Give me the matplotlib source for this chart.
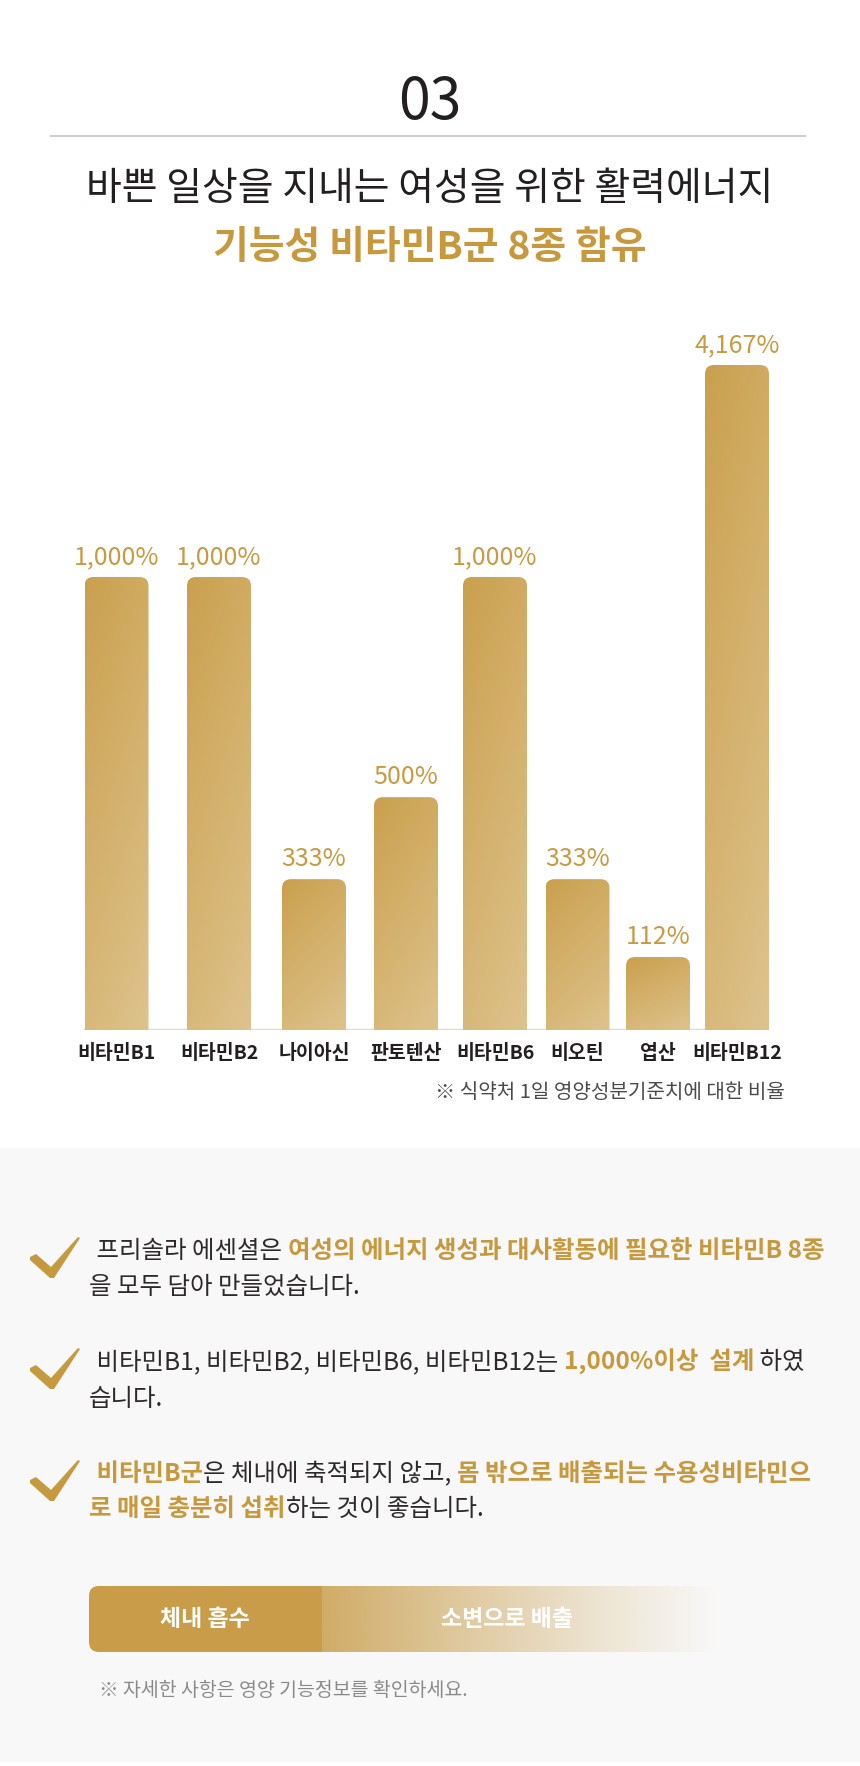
import numpy as np
import matplotlib
matplotlib.use("Agg")
import matplotlib.pyplot as plt
from matplotlib.path import Path
from matplotlib.patches import PathPatch, Rectangle, FancyBboxPatch, Polygon

plt.rcParams['font.family'] = ['Noto Sans CJK KR', 'DejaVu Sans']

# data
categories = ["비타민B1", "비타민B2", "나이아신", "판토텐산", "비타민B6", "비오틴", "엽산", "비타민B12"]
values = [1000, 1000, 333, 500, 1000, 333, 112, 4167]            # % of daily reference
bar_heights = [1000, 1000, 333, 514, 1000, 333, 161, 1468]       # heights as drawn (not to scale)
bar_centers = [116.5, 219, 314, 406, 495, 577.5, 658, 737]        # layout, px

title_no = "03"
title_1 = "바쁜 일상을 지내는 여성을 위한 활력에너지"
title_2 = "기능성 비타민B군 8종 함유"
chart_note = "※ 식약처 1일 영양성분기준치에 대한 비율"
bullets = [
    [[(" 프리솔라 에센셜은 ", 'd'), ("여성의 에너지 생성과 대사활동에 필요한 비타민B 8종", 'g')],
     [("을 모두 담아 만들었습니다.", 'd')]],
    [[(" 비타민B1, 비타민B2, 비타민B6, 비타민B12는 ", 'd'), ("1,000%이상  설계", 'g'), (" 하였", 'd')],
     [("습니다.", 'd')]],
    [[(" 비타민B군", 'g'), ("은 체내에 축적되지 않고, ", 'd'), ("몸 밖으로 배출되는 수용성비타민으", 'g')],
     [("로 매일 충분히 섭취", 'g'), ("하는 것이 좋습니다.", 'd')]],
]
flow_labels = ["체내 흡수", "소변으로 배출"]
bottom_note = "※ 자세한 사항은 영양 기능정보를 확인하세요."

DARK = '#231f20'
BODY = '#2e2a2b'
GOLD = '#c8983c'
W, H = 860, 1766

fig = plt.figure(figsize=(W / 100, H / 100), dpi=100)
fig.patch.set_facecolor('white')
ax0 = fig.add_axes([0, 0, 1, 1])
ax0.set_xlim(0, W)
ax0.set_ylim(H, 0)
ax0.axis('off')

# header
ax0.text(W / 2, 103, title_no, ha='center', va='center', fontsize=41, color=DARK, weight='medium')
ax0.plot([51, 805], [136, 136], color='#cfcfcf', lw=1.5)
ax0.text(W / 2, 189, title_1, ha='center', va='center', fontsize=28, color=DARK)
ax0.text(W / 2, 247, title_2, ha='center', va='center', fontsize=28, color=GOLD, weight='bold')

# bar chart
base_px, top_px, px_per_unit = 1030, 300, 0.453
ax = fig.add_axes([0, (H - base_px) / H, 1, (base_px - top_px) / H])
ax.set_xlim(0, W)
ax.set_ylim(0, (base_px - top_px) / px_per_unit)
for s in ax.spines.values():
    s.set_visible(False)
ax.set_yticks([])
ax.patch.set_alpha(0)

bars = ax.bar(bar_centers, bar_heights, width=64, color='none')
c0 = np.array([202, 160, 78]) / 255
c1 = np.array([222, 195, 141]) / 255
r_px = 9
rx, ry = r_px, r_px / px_per_unit
for b in bars:
    x0, w, h = b.get_x(), b.get_width(), b.get_height()
    x1 = x0 + w
    verts = [(x0, 0), (x0, h - ry), (x0, h), (x0 + rx, h), (x1 - rx, h), (x1, h),
             (x1, h - ry), (x1, 0), (x0, 0)]
    codes = [Path.MOVETO, Path.LINETO, Path.CURVE3, Path.CURVE3, Path.LINETO,
             Path.CURVE3, Path.CURVE3, Path.LINETO, Path.CLOSEPOLY]
    patch = PathPatch(Path(verts, codes), facecolor='none', edgecolor='none')
    ax.add_patch(patch)
    u = np.linspace(0, 1, 40)[None, :]
    v = np.linspace(0, 1, 200)[:, None]   # row 0 = top
    t = np.clip(0.3 * u + 0.7 * v, 0, 1)
    img = c0[None, None, :] * (1 - t[..., None]) + c1[None, None, :] * t[..., None]
    im = ax.imshow(img, extent=(x0, x1, 0, h), aspect='auto', origin='upper',
                   interpolation='bilinear', zorder=2)
    im.set_clip_path(patch)

ax.hlines(0, bars[0].get_x() - 2, bars[-1].get_x() + bars[-1].get_width(),
          color='#eddcb9', lw=2.5, zorder=1)

for xc, h, v in zip(bar_centers, bar_heights, values):
    ax.annotate(f"{v:,}%", (xc, h), xytext=(0, 5), textcoords='offset points',
                ha='center', va='bottom', fontsize=18, color='#c99a42')

ax.set_xticks(bar_centers, categories)
ax.tick_params(axis='x', length=0, pad=10, labelsize=14, labelcolor=DARK)
for lab in ax.get_xticklabels():
    lab.set_fontweight('bold')

ax0.text(785, 1093, chart_note, ha='right', va='center', fontsize=14.5, color='#4a4a4a')

# gray panel
ax0.add_patch(Rectangle((0, 1148), W, 1762 - 1148, facecolor='#f8f8f8', edgecolor='none', zorder=0))

fig.canvas.draw()
renderer = fig.canvas.get_renderer()


def text_width(s, **kw):
    t1 = ax0.text(0, 0, s + "|", **kw)
    t2 = ax0.text(0, 0, "|", **kw)
    w = (t1.get_window_extent(renderer).width - t2.get_window_extent(renderer).width)
    t1.remove()
    t2.remove()
    return w


def draw_runs(x, y, runs, fs=17.6):
    for s, kind in runs:
        kw = dict(fontsize=fs, color=GOLD if kind == 'g' else BODY,
                  weight='bold' if kind == 'g' else 'normal')
        ax0.text(x, y, s, ha='left', va='center', **kw)
        x += text_width(s, **kw)


def check_mark(cx, cy):
    # brush-like tick: short thick left stroke, long tapering right stroke
    pts = np.array([(-24, -2), (-18, -5), (-3, 8), (24, -22), (26, -21),
                    (0, 19), (-4, 19), (-24, 1)], dtype=float)
    ax0.add_patch(Polygon(pts + (cx, cy), closed=True, facecolor='#c59a3e', edgecolor='none', zorder=3))


line_y = [(1251, 1287), (1362, 1399), (1474, 1509)]
for (l1, l2), (y1, y2) in zip(bullets, line_y):
    check_mark(54, y1 + 8)
    draw_runs(91, y1, l1)
    draw_runs(89, y2, l2)

# flow bar
y0, y1 = 1586, 1652
left = FancyBboxPatch((89, y0), 233, y1 - y0, boxstyle="round,pad=0,rounding_size=10",
                      facecolor='#c89c48', edgecolor='none', zorder=2)
ax0.add_patch(left)
ax0.add_patch(Rectangle((300, y0), 22, y1 - y0, facecolor='#c89c48', edgecolor='none', zorder=2))
grad = np.zeros((2, 200, 4))
grad[..., :3] = np.array([208, 172, 103]) / 255
grad[..., 3] = np.linspace(1, 0, 200)[None, :] ** 1.1
ax0.imshow(grad, extent=(322, 720, y1, y0), aspect='auto', interpolation='bilinear', zorder=2)
ax0.set_xlim(0, W)
ax0.set_ylim(H, 0)
ax0.text(205, 1619, flow_labels[0], ha='center', va='center', fontsize=16.5, color='white', weight='bold', zorder=3)
ax0.text(507, 1619, flow_labels[1], ha='center', va='center', fontsize=16.5, color='white', weight='bold', zorder=3)

ax0.text(99, 1690, bottom_note, ha='left', va='center', fontsize=14, color='#8a8a8a')

fig.savefig('out.png', dpi=100, facecolor='white')
